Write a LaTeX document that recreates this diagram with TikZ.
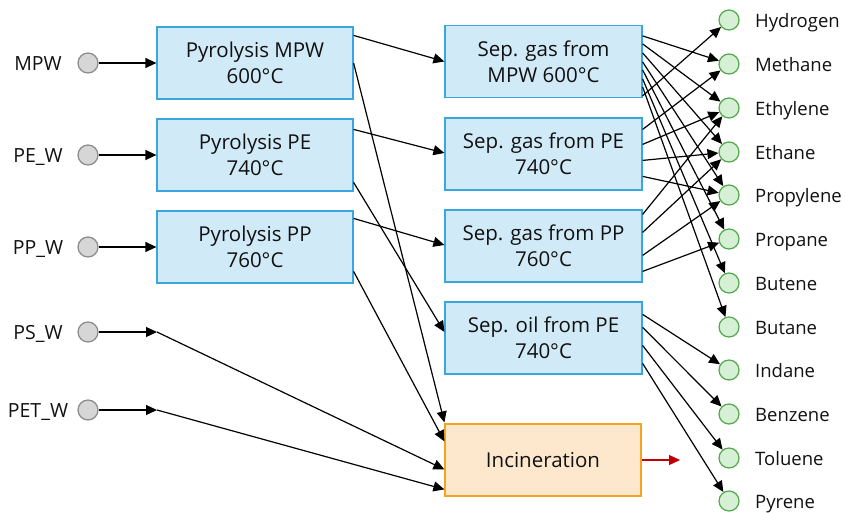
\documentclass[tikz,border=0pt]{standalone}
\usepackage{fontspec}
\setmainfont{Open Sans}
\usetikzlibrary{arrows.meta}
\definecolor{boxfill}{HTML}{D1EAF7}
\definecolor{boxdraw}{HTML}{3AA6E0}
\definecolor{incfill}{HTML}{FDE8CD}
\definecolor{incdraw}{HTML}{F5A41F}
\definecolor{srcfill}{HTML}{D6D6D6}
\definecolor{srcdraw}{HTML}{8A8A8A}
\definecolor{prodfill}{HTML}{D5F0D5}
\definecolor{proddraw}{HTML}{52A84A}
\definecolor{txt}{HTML}{111111}
\definecolor{redarrow}{HTML}{C00000}
\begin{document}
\begin{tikzpicture}[x=1pt,y=-1pt,
  proc/.style={draw=boxdraw, fill=boxfill, line width=1.2pt, minimum width=196pt, minimum height=72pt, inner sep=0pt, align=center, text=txt, font=\fontsize{20.5}{26}\selectfont},
  incbox/.style={proc, draw=incdraw, fill=incfill},
  src/.style={circle, draw=srcdraw, fill=srcfill, line width=1.2pt, minimum size=20pt, inner sep=0pt},
  prod/.style={circle, draw=proddraw, fill=prodfill, line width=1.2pt, minimum size=20pt, inner sep=0pt},
  lbl/.style={font=\fontsize{19.5}{24}\selectfont, inner sep=0pt, text=txt},
  rlbl/.style={font=\fontsize{18.5}{24}\selectfont, inner sep=0pt, text=txt},
  flow/.style={draw=black, line width=1.2pt, -{Triangle[length=11pt,width=10pt]}},
  redflow/.style={draw=redarrow, line width=1.2pt, -{Triangle[length=11pt,width=10pt]}},
]
\useasboundingbox (0,0) rectangle (845,512);

% sources
\foreach \n/\t/\y in {smpw/MPW/63, spe/PE\_W/155, spp/PP\_W/247, sps/PS\_W/332, spet/PET\_W/410}{
  \node[src] (\n) at (88,\y) {};
  \node[lbl, anchor=base] (\n-l) at (38,\y+7) {\t};
}

% pyrolysis
\node[proc] (pmpw) at (255,63) {Pyrolysis MPW\\600°C};
\node[proc] (ppe) at (255,155) {Pyrolysis PE\\740°C};
\node[proc] (ppp) at (255,247) {Pyrolysis PP\\760°C};

% separation
\node[proc, minimum width=197pt] (sgm) at (543.5,61.5) {Sep. gas from\\MPW 600°C};
\node[proc, minimum width=197pt] (sgp) at (543.5,154) {Sep. gas from PE\\740°C};
\node[proc, minimum width=197pt] (sgpp) at (543.5,246) {Sep. gas from PP\\760°C};
\node[proc, minimum width=197pt] (oil) at (543.5,338) {Sep. oil from PE\\740°C};
\node[incbox] (inc) at (543,460) {Incineration};

% products
\foreach \n/\t/\y in {h2/Hydrogen/20, ch4/Methane/64, c2h4/Ethylene/108, c2h6/Ethane/152,
  c3h6/Propylene/195, c3h8/Propane/239, c4h8/Butene/283, c4h10/Butane/327,
  ind/Indane/370, benz/Benzene/414, tol/Toluene/458, pyr/Pyrene/501}{
  \node[prod] (\n) at (729,\y) {};
  \node[rlbl, anchor=base west] (\n-l) at (755,\y+7) {\t};
}

\coordinate (psend) at (157,332);
\coordinate (petend) at (157,410);
\coordinate (incout) at (680,460);

% source arrows
\draw[flow] (smpw) -- (pmpw.west);
\draw[flow] (spe) -- (ppe.west);
\draw[flow] (spp) -- (ppp.west);
\draw[flow] (sps) -- (psend);
\draw[flow] (spet) -- (petend);

% pyrolysis outputs
\draw[flow] ([yshift=-9pt]pmpw.north east) -- (sgm.west);
\draw[flow] (pmpw.east) -- ([yshift=1pt]inc.north west);
\draw[flow] ([yshift=-11pt]ppe.north east) -- ([yshift=1pt]sgp.west);
\draw[flow] ([yshift=-64pt]ppe.north east) -- ([yshift=6pt]oil.west);
\draw[flow] ([yshift=-8pt]ppp.north east) -- ([yshift=1pt]sgpp.west);
\draw[flow] ([yshift=-61pt]ppp.north east) -- ([yshift=-18pt]inc.north west);
\draw[flow] (psend) -- ([yshift=-46pt]inc.north west);
\draw[flow] (petend) -- ([yshift=-66pt]inc.north west);

% sep gas MPW
\foreach \o/\t in {11/ch4, 19/c2h4, 28/c2h6, 37/c3h6, 45/c3h8, 54/c4h8, 62/c4h10, 71/h2}
  \draw[flow] ([yshift=-\o pt]sgm.north east) -- (\t);
% sep gas PE
\foreach \o/\t in {12/ch4, 27/c2h4, 43/c2h6, 59/c3h6}
  \draw[flow] ([yshift=-\o pt]sgp.north east) -- (\t);
% sep gas PP
\foreach \o/\t in {5/c2h4, 23/c2h6, 46/c3h6, 62/c3h8}
  \draw[flow] ([yshift=-\o pt]sgpp.north east) -- (\t);
% sep oil PE
\foreach \o/\t in {13/ind, 26/benz, 44/tol, 62/pyr}
  \draw[flow] ([yshift=-\o pt]oil.north east) -- (\t);

\draw[redflow] (inc.east) -- (incout);
\end{tikzpicture}
\end{document}
